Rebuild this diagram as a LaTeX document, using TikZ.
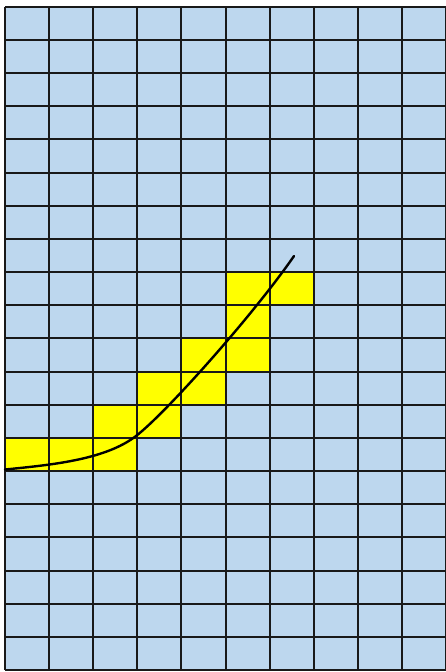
\documentclass[tikz,border=0pt]{standalone}
\definecolor{cellblue}{RGB}{189,215,238}
\definecolor{cellyellow}{RGB}{255,255,0}
\tikzset{
  gridline/.style={draw=black!90, line width=1.9pt},
  curveline/.style={draw=black, line width=2.4pt, line cap=round},
  yellowcell/.style={fill=cellyellow},
}
\begin{document}
\begin{tikzpicture}[x=1pt,y=-1pt]
\useasboundingbox (0,0) rectangle (446,672);
\fill[white] (0,0) rectangle (446,672);
\fill[cellblue] (5,7) rectangle (446,670);
% yellow cells
\fill[yellowcell] (226,272) rectangle (314,305);
\fill[yellowcell] (226,305) rectangle (270,338);
\fill[yellowcell] (181,338) rectangle (270,372);
\fill[yellowcell] (137,372) rectangle (226,405);
\fill[yellowcell] (93,405) rectangle (181,438);
\fill[yellowcell] (5,438) rectangle (137,471);
% grid
\foreach \x in {5,49,93,137,181,226,270,314,358,402,446}
  \draw[gridline] (\x,7) -- (\x,670);
\foreach \y in {7,40,73,106,139,173,206,239,272,305,338,372,405,438,471,504,537,571,604,637,670}
  \draw[gridline] (5,\y) -- (446,\y);
% curve
\coordinate (cstart) at (5,469.5);
\coordinate (cmid) at (136,436);
\coordinate (cend) at (294,256);
\draw[curveline] (cstart) .. controls (50,465) and (105,460) .. (cmid)
  .. controls (166,413) and (254,314) .. (cend);
\end{tikzpicture}
\end{document}
